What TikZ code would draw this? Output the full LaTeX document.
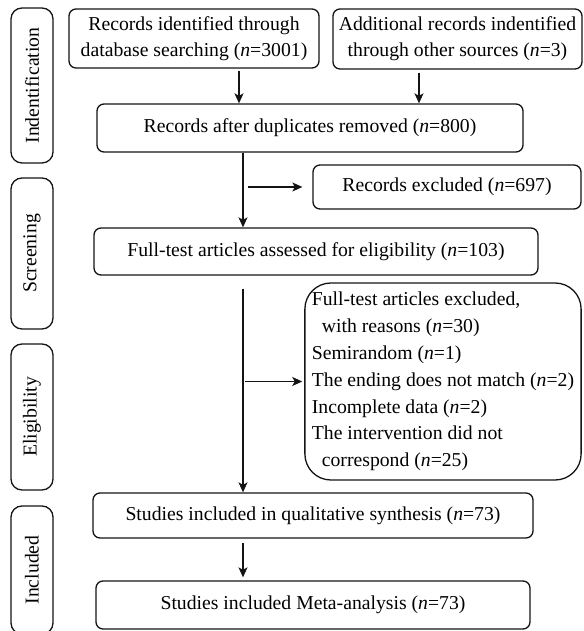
\documentclass[tikz,border=0pt]{standalone}
\usepackage{fontspec}
\setmainfont{Liberation Serif}
\usetikzlibrary{arrows.meta}
\begin{document}
\begin{tikzpicture}[x=1pt,y=1pt,
  box/.style={draw=drawColor,line width=1.3pt,rounded corners=7pt,inner sep=0pt,align=center,
    font=\fontsize{19.7}{26}\selectfont},
  stage/.style={box,rotate=90,rounded corners=11pt,minimum height=42pt},
  flow/.style={draw=drawColor,line width=1.2pt,-{Stealth[length=10pt,width=9pt,inset=2.5pt]}}]
\definecolor{drawColor}{RGB}{20,20,20}
\path[use as bounding box,fill=white] (0,0) rectangle (583,631);

% stages
\node[stage,minimum width=155pt] (ident) at (32,545.5) {Indentification};
\node[stage,minimum width=151pt] (screen) at (32,377.5) {Screening};
\node[stage,minimum width=146pt] (elig) at (32,214) {Eligibility};
\node[stage,minimum width=128pt] (incl) at (32,61) {Included};

% boxes
\node[box,minimum width=250pt,minimum height=59pt] (dbsearch) at (194,592.5) {Records identified through\\database searching (\textit{n}=3001)};
\node[box,minimum width=249pt,minimum height=60pt] (othersrc) at (457.5,592) {Additional records indentified\\through other sources (\textit{n}=3)};
\node[box,minimum width=426pt,minimum height=48pt] (dedup) at (310,503) {Records after duplicates removed (\textit{n}=800)};
\node[box,minimum width=268pt,minimum height=44pt] (excl) at (447,444) {Records excluded (\textit{n}=697)};
\node[box,minimum width=444pt,minimum height=47pt] (fulltext) at (316,379.5) {Full-test articles assessed for eligibility (\textit{n}=103)};
\node[box,rounded corners=26pt,align=left,inner xsep=7pt,minimum width=276pt,minimum height=197pt,
  font=\fontsize{19.7}{26.8}\selectfont] (reasons) at (443,249.5)
  {Full-test articles excluded,\\\hspace*{10pt}with reasons (\textit{n}=30)\\Semirandom (\textit{n}=1)\\The ending does not match (\textit{n}=2)\\Incomplete data (\textit{n}=2)\\The intervention did not\\\hspace*{10pt}correspond (\textit{n}=25)};
\node[box,minimum width=440pt,minimum height=45pt] (qual) at (313,115.5) {Studies included in qualitative synthesis (\textit{n}=73)};
\node[box,minimum width=434pt,minimum height=48pt] (meta) at (313,26) {Studies included Meta-analysis (\textit{n}=73)};

% connectors
\coordinate (spine) at (243,0);
\coordinate (dbout) at ([xshift=45pt,yshift=-2pt]dbsearch.south);
\coordinate (srcout) at ([xshift=-38.5pt,yshift=-3pt]othersrc.south);
\coordinate (cut1) at (spine |- excl.west);
\coordinate (cut2) at (fulltext.south -| spine);
\coordinate (cut3) at (spine |- reasons.west);
\coordinate (cut4) at (qual.south -| spine);
\coordinate (cut5) at (meta.north -| spine);
\draw[flow] (dbout) -- (dbout |- dedup.north);
\draw[flow] (srcout) -- (srcout |- dedup.north);
\draw[flow] (dedup.south -| spine) -- (fulltext.north -| spine);
\draw[flow] ([xshift=5pt]cut1) -- ([xshift=-10pt]excl.west);
\draw[flow] ([yshift=-13pt]cut2) -- (qual.north -| spine);
\draw[flow] ([xshift=2pt]cut3) -- ([xshift=-2pt]reasons.west);
\draw[flow] ([yshift=-4pt]cut4) -- ([yshift=3pt]cut5);
\end{tikzpicture}
\end{document}
